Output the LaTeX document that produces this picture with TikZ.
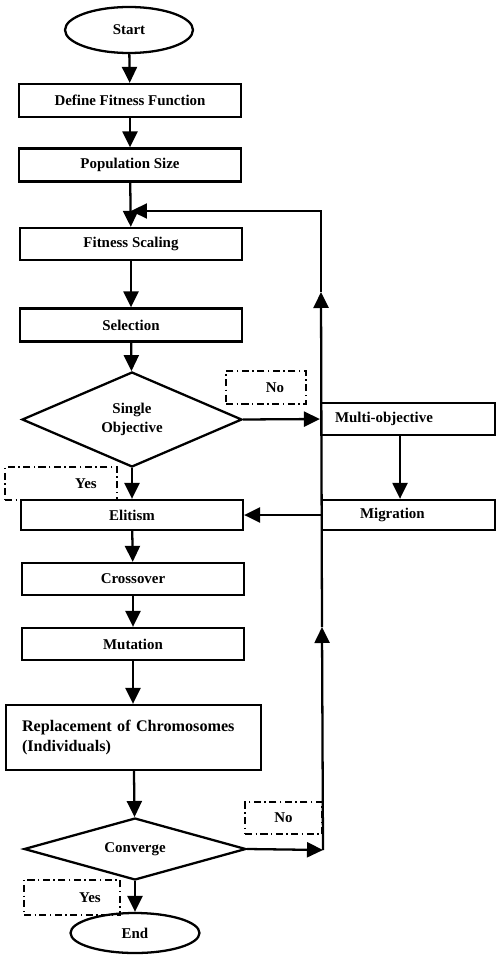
\documentclass[tikz,border=0pt]{standalone}
\usepackage{fontspec}
\setmainfont{Liberation Serif}
\usetikzlibrary{shapes.geometric,arrows.meta}

\tikzset{
  blk/.style={draw, line width=1.3pt, minimum width=4.44cm, minimum height=0.66cm,
    inner sep=0pt, font=\fontsize{8.5}{10}\selectfont\bfseries},
  term/.style={ellipse, draw, line width=1.3pt, inner sep=0pt,
    font=\fontsize{8.5}{10}\selectfont\bfseries},
  decide/.style={diamond, draw, line width=1.3pt, inner sep=0pt, aspect=2, align=center,
    font=\fontsize{8.5}{11}\selectfont\bfseries},
  tag/.style={draw, line width=0.9pt, dash pattern=on 4pt off 2pt on 0.8pt off 2pt,
    inner sep=0pt, minimum height=0.66cm, font=\fontsize{8.5}{10}\selectfont\bfseries},
  flow/.style={line width=1.3pt, -{Triangle[length=0.32cm,width=0.3cm]}},
}

\begin{document}
\begin{tikzpicture}[x=0.02cm, y=-0.02cm]
    \useasboundingbox (0,0) rectangle (496,963);
    % main column
    \node[term, minimum width=2.56cm, minimum height=0.92cm] (start) at (129,30) {Start};
    \node[blk] (fitfun) at (130,100.5) {Define Fitness Function};
    \node[blk] (popsize) at (130,165) {Population Size};
    \node[blk, minimum height=0.64cm] (scaling) at (131,244) {Fitness Scaling};
    \node[blk] (select) at (131,325) {Selection};
    \node[decide, minimum width=4.4cm, minimum height=1.9cm] (single) at (132,419.5) {Single\\Objective};
    \node[blk, minimum height=0.6cm] (elitism) at (132,515) {Elitism};
    \node[blk, minimum height=0.64cm] (cross) at (133,579) {Crossover};
    \node[blk, minimum height=0.64cm] (mutate) at (133,644) {Mutation};
    \node[blk, minimum width=5.1cm, minimum height=1.3cm, text width=4.46cm, inner xsep=0.32cm,
      align=left, font=\fontsize{9.2}{11.3}\selectfont\bfseries] (replace) at (133.5,737.5)
      {Replacement of Chromosomes\\(Individuals)};
    \node[decide, minimum width=4.44cm, minimum height=1.24cm] (conv) at (135,849) {Converge};
    \node[term, minimum width=2.58cm, minimum height=0.8cm] (finish) at (135,933) {End};
    % right branch
    \node[blk, minimum width=3.48cm, minimum height=0.64cm, text width=2.92cm, inner xsep=0.28cm,
      align=left] (multi) at (408,419) {Multi-objective};
    \node[blk, minimum width=3.46cm, minimum height=0.6cm, text width=2.7cm, inner xsep=0.38cm,
      align=left] (mig) at (408.5,515) {\hspace*{0.38cm}Migration};
    % yes / no tags
    \node[tag, minimum width=1.6cm] (noA) at (266,387.5) {\hspace*{0.36cm}No};
    \node[tag, minimum width=2.24cm] (yesA) at (61,483.5) {\hspace*{1cm}Yes};
    \node[tag, minimum width=1.54cm, minimum height=0.64cm] (noB) at (283.5,818) {No};
    \node[tag, minimum width=1.92cm, minimum height=0.7cm] (yesB) at (72,897.5) {\hspace*{0.72cm}Yes};

    \coordinate (corner) at (323,850);
    \coordinate (upA) at (322,627);
    \coordinate (upB) at (321,292);
    \coordinate (top) at (321,211);
    \coordinate (join) at (131,211);

    \draw[flow] (start) -- (fitfun);
    \draw[flow] (fitfun) -- (popsize);
    \draw[flow] (popsize) -- (scaling);
    \draw[flow] (scaling) -- (select);
    \draw[flow] (select) -- (single);
    \draw[flow] (single) -- (elitism);
    \draw[flow] (elitism) -- (cross);
    \draw[flow] (cross) -- (mutate);
    \draw[flow] (mutate) -- (mutate |- replace.north);
    \draw[flow] (replace) -- (conv);
    \draw[flow] (conv) -- (finish);

    \draw[flow] (single.east) -- (multi.west);
    \draw[flow] ([xshift=-0.16cm]multi.south) -- ([xshift=-0.16cm]multi.south |- mig.north);
    \draw[flow] (mig.west) -- (elitism.east);

    % back to fitness scaling
    \draw[flow] (conv.east) -- (corner);
    \draw[flow] (corner) -- (upA);
    \draw[flow] (upA) -- (upB);
    \draw[flow] (upB) -- (top) -- (join);
\end{tikzpicture}
\end{document}
